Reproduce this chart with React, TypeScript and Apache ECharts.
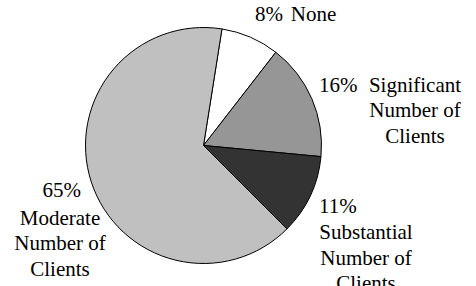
import React, { useEffect, useRef } from 'react';
import * as echarts from 'echarts';

// Data
const categories = [
  'None',
  'Significant\nNumber of\nClients',
  'Substantial\nNumber of\nClients',
  'Moderate\nNumber of\nClients',
];
const values = [8, 16, 11, 65];
const sliceColors = ['#FFFFFF', '#969696', '#333333', '#C0C0C0'];

// Label placement (layout only)
const namePos = [
  { x: 313.5, y: 0.9, align: 'center' },
  { x: 415, y: 71.9, align: 'center' },
  { x: 366, y: 219.5, align: 'center' },
  { x: 60, y: 205, align: 'center' },
];
const pctPos = [
  { x: 255, y: 13.6, align: 'left' },
  { x: 319, y: 84.6, align: 'left' },
  { x: 319, y: 206.2, align: 'left' },
  { x: 61.7, y: 189.6, align: 'center' },
];

const FONT = 'Liberation Serif';
const CSS = "#chart svg text, #chart svg tspan { font-family: 'Liberation Serif', 'Times New Roman', serif !important; }";

export default function App() {
  const ref = useRef<HTMLDivElement>(null);
  useEffect(() => {
    document.body.style.margin = '0';
    const chart = echarts.init(ref.current!, null, { renderer: 'svg' });
    const data = categories.map((name, i) => ({
      name,
      value: values[i],
      itemStyle: { color: sliceColors[i] },
    }));
    const labelBase = {
      show: true,
      position: 'outside',
      fontFamily: FONT,
      fontSize: 21,
      lineHeight: 25.5,
      color: '#000',
    };
    const common = {
      type: 'pie' as const,
      center: [203.5, 145.5],
      radius: 118,
      startAngle: 81,
      clockwise: true,
      avoidLabelOverlap: false,
      labelLine: { show: false },
      emphasis: { disabled: true },
    };
    chart.setOption({
      animation: false,
      textStyle: { fontFamily: FONT, fontSize: 21 },
      series: [
        {
          ...common,
          data,
          itemStyle: { borderColor: '#000', borderWidth: 1 },
          label: { ...labelBase, formatter: '{b}' },
          labelLayout: (p: any) => ({
            x: namePos[p.dataIndex].x,
            y: namePos[p.dataIndex].y,
            align: namePos[p.dataIndex].align,
            verticalAlign: 'top',
          }),
        },
        {
          ...common,
          silent: true,
          data: categories.map((name, i) => ({ name, value: values[i] })),
          itemStyle: { color: 'rgba(0,0,0,0)', borderWidth: 0 },
          label: { ...labelBase, formatter: '{c}%' },
          labelLayout: (p: any) => ({
            x: pctPos[p.dataIndex].x,
            y: pctPos[p.dataIndex].y,
            align: pctPos[p.dataIndex].align,
            verticalAlign: 'middle',
          }),
        },
      ],
    });
    return () => chart.dispose();
  }, []);
  return (
    <>
      <style>{CSS}</style>
      <div id="chart" ref={ref} style={{ width: 476, height: 286 }} />
    </>
  );
}
